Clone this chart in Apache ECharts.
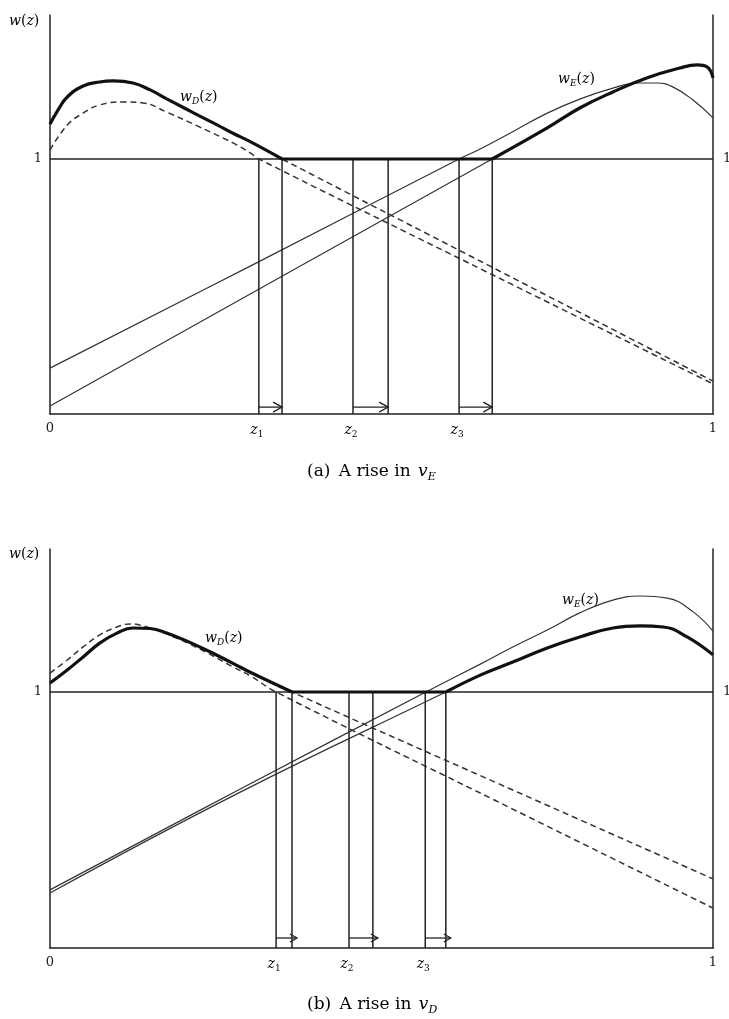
<!DOCTYPE html>
<html><head><meta charset="utf-8">
<script src="https://cdn.jsdelivr.net/npm/echarts@6/dist/echarts.min.js"></script>
<style>html,body{margin:0;padding:0;background:#fff;overflow:hidden}#c{width:729px;height:1019px}</style>
</head><body><div id="c"></div>
<script>
// ---------------- DATA ----------------
const xTickLabels = {0: '0', 1: '1'};
const yTickLabel = '1';
const zNames = ['1', '2', '3'];

// Panel (a): A rise in v_E
const wD_a_upper = [[0,1.137],[0.012,1.192],[0.026,1.243],[0.050,1.286],[0.075,1.302],[0.095,1.306],[0.125,1.298],[0.151,1.271],[0.176,1.236],[0.201,1.202],[0.226,1.168],[0.252,1.134],[0.276,1.101],[0.302,1.068],[0.350,1.000],[0.668,0.574],[1,0.129]];
const wD_a_lower = [[0,1.035],[0.026,1.133],[0.050,1.180],[0.075,1.212],[0.110,1.224],[0.140,1.220],[0.176,1.184],[0.226,1.125],[0.276,1.063],[0.302,1.024],[0.315,1.000],[0.658,0.558],[1,0.118]];
const wE_a_1 = [[0,0.180],[0.302,0.580],[0.617,1.000],[0.649,1.039],[0.698,1.107],[0.750,1.180],[0.799,1.235],[0.849,1.278],[0.885,1.298],[0.916,1.298],[0.940,1.282],[0.970,1.231],[1,1.161]];
const wE_a_2 = [[0,0.031],[0.333,0.516],[0.667,1.000],[0.750,1.122],[0.799,1.200],[0.849,1.263],[0.900,1.318],[0.950,1.357],[0.976,1.369],[0.991,1.361],[1,1.318]];
const zA = [[0.315,0.350],[0.457,0.510],[0.617,0.667]];

// Panel (b): A rise in v_D
const wD_b_new = [[0,1.035],[0.026,1.086],[0.050,1.137],[0.075,1.191],[0.101,1.230],[0.125,1.250],[0.151,1.248],[0.176,1.230],[0.226,1.176],[0.276,1.112],[0.302,1.077],[0.365,1.000],[0.679,0.639],[1,0.270]];
const wD_b_old = [[0,1.074],[0.026,1.125],[0.050,1.176],[0.075,1.223],[0.101,1.254],[0.121,1.266],[0.151,1.250],[0.176,1.227],[0.226,1.168],[0.276,1.098],[0.302,1.063],[0.341,1.000],[0.671,0.577],[1,0.156]];
const wE_b_A = [[0,0.227],[0.287,0.621],[0.567,1.000],[0.649,1.109],[0.698,1.176],[0.750,1.242],[0.799,1.309],[0.849,1.359],[0.890,1.375],[0.931,1.367],[0.970,1.313],[1,1.238]];
const wE_b_B = [[0,0.215],[0.287,0.609],[0.597,1.000],[0.649,1.066],[0.698,1.117],[0.750,1.172],[0.799,1.215],[0.849,1.250],[0.890,1.258],[0.925,1.254],[0.961,1.215],[1,1.145]];
const zB = [[0.341,0.365],[0.451,0.487],[0.566,0.597]];

// ---------------- STYLE ----------------
const INK = '#222';
const SERIF = '"DejaVu Serif", "Liberation Serif", serif';
const ARROW_LEVEL_A = 0.027, ARROW_LEVEL_B = 0.039;
const Y_MAX_A = 1.5647, Y_MAX_B = 1.5586;

const RICH = {
  i: {fontFamily: SERIF, fontStyle: 'italic', fontSize: 14, color: INK, lineHeight: 18, verticalAlign: 'middle'},
  r: {fontFamily: SERIF, fontSize: 14, color: INK, lineHeight: 18, verticalAlign: 'middle'},
  s: {fontFamily: SERIF, fontStyle: 'italic', fontSize: 9, color: INK, lineHeight: 18, verticalAlign: 'bottom'},
  d: {fontFamily: SERIF, fontSize: 9, color: INK, lineHeight: 18, verticalAlign: 'bottom'}
};
const CAP = {
  r: {fontFamily: SERIF, fontSize: 17, color: INK, lineHeight: 22, verticalAlign: 'middle'},
  g: {fontFamily: SERIF, fontSize: 17, color: INK, lineHeight: 22, verticalAlign: 'middle', padding: [0, 3, 0, 0]},
  i: {fontFamily: SERIF, fontStyle: 'italic', fontSize: 17, color: INK, lineHeight: 22, verticalAlign: 'middle', padding: [0, 0, 0, 2]},
  s: {fontFamily: SERIF, fontStyle: 'italic', fontSize: 11, color: INK, lineHeight: 22, verticalAlign: 'bottom'}
};

function lineS(data, gi, style, z) {
  return {type: 'line', xAxisIndex: gi, yAxisIndex: gi * 2, data: data, symbol: 'none',
    smooth: 0.45, lineStyle: style, z: z || 2, silent: true, animation: false};
}
const thin = {color: '#333', width: 1.2};
const dashed = {color: '#333', width: 1.5, type: [6, 4]};
const thick = {color: '#111', width: 3.2};
const flat = {color: INK, width: 1.5};

function zMarkers(levelY, tipExtra, headLen, headHalf) {
  return function (params, api) {
    const zl = api.value(0), zr = api.value(1);
    const name = zNames[params.dataIndex];
    const b0 = api.coord([zl, 0]), t0 = api.coord([zl, 1]);
    const b1 = api.coord([zr, 0]), t1 = api.coord([zr, 1]);
    const a0 = api.coord([zl, levelY]), a1 = api.coord([zr, levelY]);
    const ls = {stroke: INK, lineWidth: 1.5};
    const tip = a1[0] + tipExtra;
    return {type: 'group', children: [
      {type: 'line', shape: {x1: b0[0], y1: b0[1], x2: t0[0], y2: t0[1]}, style: ls},
      {type: 'line', shape: {x1: b1[0], y1: b1[1], x2: t1[0], y2: t1[1]}, style: ls},
      {type: 'line', shape: {x1: a0[0], y1: a0[1], x2: tip, y2: a1[1]}, style: {stroke: INK, lineWidth: 1.3}},
      {type: 'polyline', shape: {points: [[tip - headLen, a1[1] - headHalf], [tip, a1[1]], [tip - headLen, a1[1] + headHalf]]}, style: {stroke: INK, lineWidth: 1.3, fill: null}},
      {type: 'text', x: b0[0] - 2, y: b0[1] + 16, style: {text: '{i|z}{d|' + name + '}', rich: RICH, align: 'center', verticalAlign: 'middle'}}
    ]};
  };
}

function panelSeries(gi, dashedList, thinList, thickParts, zs, renderer) {
  const s = [];
  s.push(lineS([[0, 1], [1, 1]], gi, flat, 1));
  dashedList.forEach(d => s.push(lineS(d, gi, dashed, 2)));
  thinList.forEach(d => s.push(lineS(d, gi, thin, 2)));
  thickParts.forEach(d => s.push(lineS(d, gi, thick, 4)));
  s.push({type: 'custom', xAxisIndex: gi, yAxisIndex: gi * 2, renderItem: renderer,
    data: zs.map(p => [p[0], p[1]]), encode: {x: [0, 1]}, clip: false, silent: true, animation: false, z: 3});
  return s;
}

const thickA = [
  wD_a_upper.filter(p => p[0] <= zA[0][1]),
  [[zA[0][1], 1], [zA[2][1], 1]],
  wE_a_2.filter(p => p[0] >= zA[2][1])
];
const thickB = [
  wD_b_new.filter(p => p[0] <= zB[0][1]),
  [[zB[0][1], 1], [zB[2][1], 1]],
  wE_b_B.filter(p => p[0] >= zB[2][1])
];

function xAx(gi) {
  return {type: 'value', gridIndex: gi, min: 0, max: 1, interval: 1,
    axisLine: {show: true, onZero: false, lineStyle: {color: INK, width: 1.5}},
    axisTick: {show: false}, splitLine: {show: false},
    axisLabel: {color: INK, fontFamily: SERIF, fontSize: 13, margin: 8, formatter: v => xTickLabels[v] || ''}};
}
function yAx(gi, pos, max, margin) {
  return {type: 'value', gridIndex: gi, position: pos, min: 0, max: max, interval: 1,
    axisLine: {show: true, onZero: false, lineStyle: {color: INK, width: 1.5}},
    axisTick: {show: false}, splitLine: {show: false},
    axisLabel: {color: INK, fontFamily: SERIF, fontSize: 13, margin: margin, formatter: v => (v === 1 ? yTickLabel : '')}};
}

function rt(x, y, text, rich) {
  return {type: 'text', x: x, y: y, silent: true, style: {text: text, rich: rich || RICH, align: 'left', verticalAlign: 'middle'}};
}

const option = {
  animation: false,
  backgroundColor: '#fff',
  grid: [
    {left: 50, right: 16, top: 15, height: 399, containLabel: false, outerBoundsMode: 'none'},
    {left: 50, right: 16, top: 549, height: 399, containLabel: false, outerBoundsMode: 'none'}
  ],
  xAxis: [xAx(0), xAx(1)],
  yAxis: [yAx(0, 'left', Y_MAX_A, 8), yAx(0, 'right', Y_MAX_A, 10), yAx(1, 'left', Y_MAX_B, 8), yAx(1, 'right', Y_MAX_B, 10)],
  series: [].concat(
    panelSeries(0, [wD_a_upper, wD_a_lower], [wE_a_1, wE_a_2], thickA, zA, zMarkers(ARROW_LEVEL_A, 0, 9, 5)),
    panelSeries(1, [wD_b_new, wD_b_old], [wE_b_A, wE_b_B], thickB, zB, zMarkers(ARROW_LEVEL_B, 5, 7, 4))
  ),
  graphic: [
    rt(9, 21, '{i|w}{r|(}{i|z}{r|)}'),
    rt(180, 97, '{i|w}{s|D}{r|(}{i|z}{r|)}'),
    rt(558, 79, '{i|w}{s|E}{r|(}{i|z}{r|)}'),
    rt(307, 472, '{g|(a)}{r| A rise in}{i| v}{s|E}', CAP),
    rt(9, 554, '{i|w}{r|(}{i|z}{r|)}'),
    rt(205, 638, '{i|w}{s|D}{r|(}{i|z}{r|)}'),
    rt(562, 600, '{i|w}{s|E}{r|(}{i|z}{r|)}'),
    rt(307, 1005, '{g|(b)}{r| A rise in}{i| v}{s|D}', CAP)
  ]
};

const chart = echarts.init(document.getElementById('c'), null, {renderer: 'canvas'});
chart.setOption(option);
</script>
</body></html>
